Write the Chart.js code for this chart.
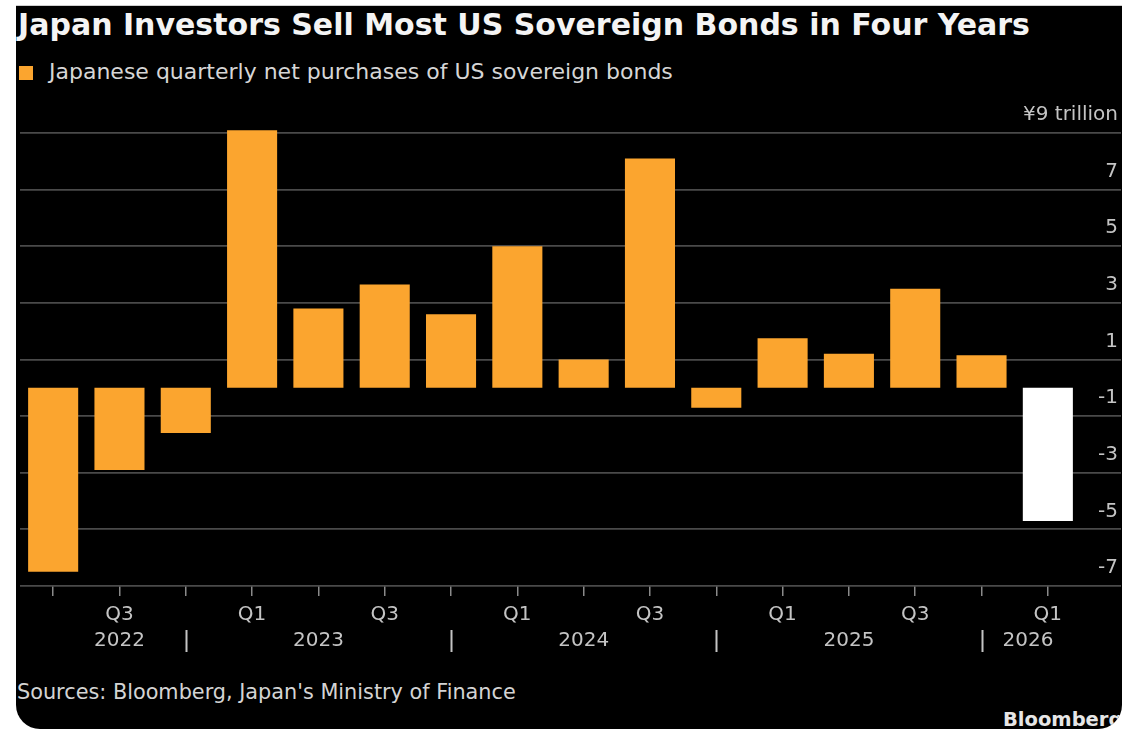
<!DOCTYPE html>
<html>
<head>
<meta charset="utf-8">
<script src="https://cdn.jsdelivr.net/npm/chart.js@4.4.1/dist/chart.umd.min.js"></script>
<style>
  html, body { margin: 0; padding: 0; background: #ffffff; width: 1132px; height: 731px; overflow: hidden; }
  #card { position: absolute; left: 16px; top: 5px; width: 1106px; height: 724px; background: #000;
          border-radius: 0 0 24px 24px; overflow: hidden; border-top: 1px solid #cfcfcf; box-sizing: border-box; }
  .txt { position: absolute; font-family: "DejaVu Sans", sans-serif; white-space: nowrap; }
  #title { left: 2px; top: 4px; font-size: 30px; line-height: 30px; font-weight: bold; color: #f4f4f4; }
  #legend { left: 33px; top: 55px; font-size: 22px; line-height: 22px; color: #d6d6d6; }
  #swatch { position: absolute; left: 3px; top: 60px; width: 14px; height: 14px; background: #fba52f; }
  #source { left: 1px; top: 676px; font-size: 20.8px; line-height: 20.8px; color: #d4d4d4; }
  #brand { left: 987px; top: 704px; font-size: 19.5px; line-height: 19.5px; font-weight: bold; color: #e6e6e6; }
  #c { position: absolute; left: 0; top: 0; }
</style>
</head>
<body>
<div id="card">
  <div class="txt" id="title">Japan Investors Sell Most US Sovereign Bonds in Four Years</div>
  <div id="swatch"></div>
  <div class="txt" id="legend">Japanese quarterly net purchases of US sovereign bonds</div>
  <div class="txt" id="source">Sources: Bloomberg, Japan's Ministry of Finance</div>
  <div class="txt" id="brand">Bloomberg</div>
</div>
<canvas id="c" width="1132" height="731"></canvas>
<script>
// ---- data ----
const quarters = ['Q2','Q3','Q4','Q1','Q2','Q3','Q4','Q1','Q2','Q3','Q4','Q1','Q2','Q3','Q4','Q1'];
const quarterYears = [2022,2022,2022,2023,2023,2023,2023,2024,2024,2024,2024,2025,2025,2025,2025,2026];
const netPurchases = [-6.5, -2.9, -1.6, 9.1, 2.8, 3.65, 2.6, 5.0, 1.0, 8.1, -0.7, 1.75, 1.2, 3.5, 1.15, -4.7];
const labeledQuarters = ['Q1', 'Q3'];
const yearLabels = ['2022', '2023', '2024', '2025', '2026'];
const yearLabelAt = [1, 4, 8, 12, 14.7];
const yearDividerAt = [2, 6, 10, 14];
const yTicks = [-7, -5, -3, -1, 1, 3, 5, 7, 9];
const yTopLabel = '¥9 trillion';
const seriesName = 'Japanese quarterly net purchases of US sovereign bonds';

// ---- styling ----
const ORANGE = '#fba52f';
const LATEST = '#ffffff';
const TEXT = '#c4c4c4';
const FONT = '"DejaVu Sans", sans-serif';
const categories = quarters.map((q, i) => q + ' ' + quarterYears[i]);
const barColors = netPurchases.map((v, i) => i === netPurchases.length - 1 ? LATEST : ORANGE);
const yLabel = v => (v === yTicks[yTicks.length - 1] ? yTopLabel : String(v));

const Y_TICK_LEN = 40, Y_AXIS_W = 40, LABEL_INSET = 3, LABEL_RAISE = 18;

// y-axis labels sit just above their gridline, right-aligned over the tick extension
const yLabels = {
  id: 'yLabels',
  afterDraw(chart) {
    const ctx = chart.ctx, ys = chart.scales.y;
    ctx.save();
    ctx.fillStyle = TEXT;
    ctx.font = '20px ' + FONT;
    ctx.textAlign = 'right';
    ctx.textBaseline = 'middle';
    ys.ticks.forEach(t => {
      ctx.fillText(yLabel(t.value), ys.right - LABEL_INSET, ys.getPixelForValue(t.value) - LABEL_RAISE);
    });
    ctx.restore();
  }
};

const yearRow = {
  id: 'yearRow',
  afterDraw(chart) {
    const ctx = chart.ctx, xs = chart.scales.x;
    ctx.save();
    ctx.fillStyle = TEXT;
    ctx.strokeStyle = TEXT;
    ctx.font = '20px ' + FONT;
    ctx.textAlign = 'center';
    ctx.textBaseline = 'middle';
    const yMid = xs.bottom + 5;
    yearLabels.forEach((t, i) => ctx.fillText(t, xs.getPixelForValue(yearLabelAt[i]), yMid));
    ctx.lineWidth = 2;
    yearDividerAt.forEach(p => {
      const x = Math.round(xs.getPixelForValue(p)) + 0.5;
      ctx.beginPath(); ctx.moveTo(x, yMid - 11); ctx.lineTo(x, yMid + 11); ctx.stroke();
    });
    ctx.restore();
  }
};

new Chart(document.getElementById('c'), {
  type: 'bar',
  data: {
    labels: categories,
    datasets: [{
      label: seriesName,
      data: netPurchases,
      backgroundColor: barColors,
      borderWidth: 0,
      clip: false,
      categoryPercentage: 1.0,
      barPercentage: 0.755
    }]
  },
  options: {
    responsive: false,
    animation: false,
    layout: { padding: { left: 20, right: 11, top: 133, bottom: 95 } },
    plugins: { legend: { display: false }, title: { display: false }, tooltip: { enabled: false } },
    scales: {
      x: {
        offset: true,
        afterFit: s => { s.height = 50; },
        border: { display: false },
        grid: { offset: false, drawOnChartArea: false, drawTicks: true, tickLength: 10, color: '#8a8a8a', lineWidth: 1.5 },
        ticks: {
          autoSkip: false, maxRotation: 0, minRotation: 0, padding: 7,
          color: TEXT, font: { family: FONT, size: 20 },
          callback: (v, i) => (labeledQuarters.includes(quarters[i]) ? quarters[i] : '')
        }
      },
      y: {
        position: 'right',
        min: yTicks[0],
        max: yTicks[yTicks.length - 1],
        afterBuildTicks: s => { s.ticks = yTicks.map(v => ({ value: v })); },
        afterFit: s => { s.width = Y_AXIS_W; },
        border: { display: false },
        grid: { color: '#4a4a4a', lineWidth: 1.8, drawTicks: true, tickLength: Y_TICK_LEN },
        ticks: { display: false }
      }
    }
  },
  plugins: [yLabels, yearRow]
});
</script>
</body>
</html>
